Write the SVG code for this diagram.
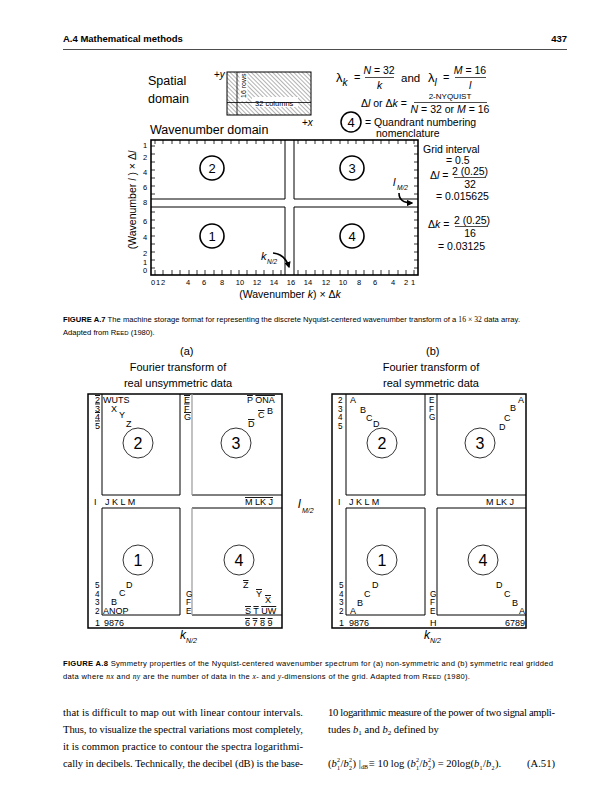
<svg xmlns="http://www.w3.org/2000/svg" width="615" height="800" viewBox="0 0 615 800">
<defs>
<style>
.s{font-family:"Liberation Sans",Arial,sans-serif;fill:#000}
.t{font-family:"Liberation Serif","Times New Roman",serif;fill:#000}
.i{font-style:italic}
.ov{text-decoration:overline}
.ln{stroke:#000;fill:none}
.tick{stroke:#000;stroke-width:0.8;fill:none}
.lbl{font-family:"Liberation Sans",Arial,sans-serif;font-size:9px;fill:#000}
.st{font-size:8.2px}
.cap{font-family:"Liberation Sans",Arial,sans-serif;font-size:7.6px;fill:#000}
.body{font-family:"Liberation Serif","Times New Roman",serif;font-size:10.6px;fill:#000}
.sm{font-family:"Liberation Serif","Times New Roman",serif;font-size:6px;fill:#000}
</style>
<pattern id="hatch" patternUnits="userSpaceOnUse" width="3" height="3" patternTransform="rotate(-45)">
<line x1="0" y1="0" x2="0" y2="3" stroke="#222" stroke-width="0.7"/>
</pattern>
<marker id="ah" viewBox="0 0 10 10" refX="8" refY="5" markerWidth="4" markerHeight="4" orient="auto">
<path d="M0,0 L10,5 L0,10 z" fill="#000"/>
</marker>
</defs>
<rect width="615" height="800" fill="#fff"/>

<g id="header">
<text class="s" x="63" y="42" font-size="9.5" font-weight="bold">A.4  Mathematical methods</text>
<text class="s" x="567" y="42" font-size="9.5" font-weight="bold" text-anchor="end">437</text>
<line x1="63" y1="49.5" x2="567" y2="49.5" stroke="#000" stroke-width="0.7"/>
</g>

<g id="spatial-domain">
<text class="s" x="148" y="85" font-size="12.5">Spatial</text>
<text class="s" x="148" y="103" font-size="12.5">domain</text>
<rect x="227" y="72" width="84" height="43" fill="url(#hatch)" stroke="#000" stroke-width="1"/>
<rect x="239.5" y="73" width="8" height="28" fill="#fff"/>
<rect x="252" y="97" width="46" height="10" fill="#fff"/>
<line class="ln" x1="237" y1="72" x2="237" y2="115" stroke-width="0.8"/>
<line class="ln" x1="227" y1="102.5" x2="311" y2="102.5" stroke-width="0.8"/>
<text class="s" transform="translate(246,98) rotate(-90)" font-size="7">16 rows</text>
<text class="s" x="255" y="105.5" font-size="7.5">32 columns</text>
<text class="s" x="214" y="78" font-size="10">+<tspan class="i">y</tspan></text>
<text class="s" x="302" y="126" font-size="10">+<tspan class="i">x</tspan></text>
</g>

<g id="formulas">
<text class="s" x="336" y="82" font-size="13">λ<tspan font-size="10" class="i" dy="4">k</tspan></text>
<text class="s" x="354" y="81" font-size="11">=</text>
<text class="s" x="379" y="74" font-size="10.5" text-anchor="middle"><tspan class="i">N</tspan> = 32</text>
<line class="ln" x1="365" y1="77.5" x2="394" y2="77.5" stroke-width="0.7"/>
<text class="s i" x="377" y="89" font-size="10.5">k</text>
<text class="s" x="401" y="82" font-size="11.5">and</text>
<text class="s" x="428" y="82" font-size="13">λ<tspan font-size="10" class="i" dy="4">l</tspan></text>
<text class="s" x="443" y="81" font-size="11">=</text>
<text class="s" x="470" y="74" font-size="10.5" text-anchor="middle"><tspan class="i">M</tspan> = 16</text>
<line class="ln" x1="455" y1="77.5" x2="486" y2="77.5" stroke-width="0.7"/>
<text class="s i" x="469" y="89" font-size="10.5">l</text>
<text class="s" x="361" y="107" font-size="10.5">Δ<tspan class="i">l</tspan> or Δ<tspan class="i">k</tspan> =</text>
<text class="s" x="450" y="99" font-size="8" text-anchor="middle">2-NYQUIST</text>
<line class="ln" x1="414" y1="102.5" x2="487" y2="102.5" stroke-width="0.7"/>
<text class="s" x="450" y="113" font-size="10.5" text-anchor="middle"><tspan class="i">N</tspan> = 32 or <tspan class="i">M</tspan> = 16</text>
<circle cx="351" cy="122" r="10" fill="none" stroke="#000" stroke-width="1.5"/>
<text class="s" x="351" y="127" font-size="13" text-anchor="middle">4</text>
<text class="s" x="365" y="126" font-size="10.5">= Quandrant numbering</text>
<text class="s" x="376" y="137" font-size="10.5">nomenclature</text>
</g>

<g id="wavenumber-domain">
<text class="s" x="150" y="134" font-size="12.5">Wavenumber domain</text>
<rect x="151" y="140" width="267" height="135" fill="none" stroke="#000" stroke-width="1.6"/>
<path class="ln" stroke-width="1" d="M285,140V199H151M294,140V199H418M285,275V207H151M294,275V207H418"/>
<path class="tick" d="M155,140v4M163,140v4M172,140v4M180,140v4M189,140v4M197,140v4M205,140v4M214,140v4M222,140v4M231,140v4M239,140v4M247,140v4M256,140v4M264,140v4M273,140v4M281,140v4M298,140v4M306,140v4M315,140v4M323,140v4M331,140v4M340,140v4M348,140v4M356,140v4M364,140v4M373,140v4M381,140v4M389,140v4M398,140v4M406,140v4M414,140v4
M155,275v-5M163,275v-5M172,275v-5M180,275v-5M189,275v-5M197,275v-5M205,275v-5M214,275v-5M222,275v-5M231,275v-5M239,275v-5M247,275v-5M256,275v-5M264,275v-5M273,275v-5M281,275v-5M298,275v-5M306,275v-5M315,275v-5M323,275v-5M331,275v-5M340,275v-5M348,275v-5M356,275v-5M364,275v-5M373,275v-5M381,275v-5M389,275v-5M398,275v-5M406,275v-5M414,275v-5
M151,146h4M151,154h4M151,162h4M151,170h4M151,178h4M151,186h4M151,194h4M151,212h4M151,220h4M151,228h4M151,236h4M151,244h4M151,252h4M151,260h4M151,268h4
M418,146h-4M418,154h-4M418,162h-4M418,170h-4M418,178h-4M418,186h-4M418,194h-4M418,212h-4M418,220h-4M418,228h-4M418,236h-4M418,244h-4M418,252h-4M418,260h-4M418,268h-4"/>
<g class="s" font-size="7.5" text-anchor="middle">
<text x="145" y="148">1</text><text x="145" y="160">2</text><text x="145" y="175">4</text><text x="145" y="190">6</text><text x="145" y="205">8</text><text x="145" y="224">6</text><text x="145" y="240">4</text><text x="145" y="256">2</text><text x="145" y="265">1</text><text x="145" y="273">0</text>
<text x="153" y="285">0</text><text x="158" y="285">1</text><text x="163" y="285">2</text><text x="188" y="285">4</text><text x="204" y="285">6</text><text x="222" y="285">8</text><text x="240" y="285">10</text><text x="257" y="285">12</text><text x="274" y="285">14</text><text x="291" y="285">16</text><text x="308" y="285">14</text><text x="326" y="285">12</text><text x="343" y="285">10</text><text x="359" y="285">8</text><text x="375" y="285">6</text><text x="393" y="285">4</text><text x="406" y="285">2</text><text x="413" y="285">1</text>
</g>
<text class="s" transform="translate(136,200) rotate(-90)" font-size="10.5" text-anchor="middle">(Wavenumber <tspan class="i">l</tspan> ) × Δ<tspan class="i">l</tspan></text>
<text class="s" x="290" y="298" font-size="10.5" text-anchor="middle">(Wavenumber <tspan class="i">k</tspan>) × Δ<tspan class="i">k</tspan></text>
<g id="wq2"><circle cx="212" cy="168" r="12" fill="none" stroke="#000" stroke-width="1.6"/><text class="s" x="212" y="173" font-size="13" text-anchor="middle">2</text></g>
<g id="wq3"><circle cx="352" cy="168" r="12" fill="none" stroke="#000" stroke-width="1.6"/><text class="s" x="352" y="173" font-size="13" text-anchor="middle">3</text></g>
<g id="wq1"><circle cx="212" cy="236" r="12" fill="none" stroke="#000" stroke-width="1.6"/><text class="s" x="212" y="241" font-size="13" text-anchor="middle">1</text></g>
<g id="wq4"><circle cx="352" cy="236" r="12" fill="none" stroke="#000" stroke-width="1.6"/><text class="s" x="352" y="241" font-size="13" text-anchor="middle">4</text></g>
<text class="s i" x="393" y="186" font-size="11">l</text><text class="s i" x="397" y="190" font-size="6.5">M/2</text>
<text class="s i" x="261" y="260" font-size="11">k</text><text class="s i" x="267" y="264" font-size="6.5">N/2</text>
</g>

<g id="connectors">
<path d="M399,193 Q399,203 412,203" fill="none" stroke="#000" stroke-width="1.6" marker-end="url(#ah)"/>
<path d="M273,253 Q285,254 289,267" fill="none" stroke="#000" stroke-width="1.6" marker-end="url(#ah)"/>
</g>

<g id="grid-notes">
<text class="s" x="423" y="153" font-size="10.5">Grid interval</text>
<text class="s" x="446" y="164" font-size="10.5">=  0.5</text>
<text class="s" x="430" y="179" font-size="10.5">Δ<tspan class="i">l</tspan>  =</text>
<text class="s" x="470" y="175" font-size="10.5" text-anchor="middle">2 (0.25)</text>
<line class="ln" x1="454" y1="177.5" x2="486" y2="177.5" stroke-width="0.7"/>
<text class="s" x="470" y="188" font-size="10.5" text-anchor="middle">32</text>
<text class="s" x="436" y="200" font-size="10.5">=  0.015625</text>
<text class="s" x="428" y="228" font-size="10.5">Δ<tspan class="i">k</tspan>  =</text>
<text class="s" x="472" y="224" font-size="10.5" text-anchor="middle">2 (0.25)</text>
<line class="ln" x1="455" y1="226.5" x2="488" y2="226.5" stroke-width="0.7"/>
<text class="s" x="470" y="237" font-size="10.5" text-anchor="middle">16</text>
<text class="s" x="438" y="250" font-size="10.5">=   0.03125</text>
</g>

<g id="caption-a7">
<text class="cap" x="63" y="322" textLength="457" lengthAdjust="spacing"><tspan font-weight="bold">FIGURE A.7</tspan>  The machine storage format for representing the discrete Nyquist-centered wavenumber transform of a <tspan class="t">16 × 32</tspan> data array.</text>
<text class="cap" x="63" y="335">Adapted from R<tspan font-size="6">EED</tspan> (1980).</text>
</g>

<g id="panel-a">
<text class="s" x="180" y="355" font-size="11">(a)</text>
<text class="s" x="178" y="371" font-size="11" text-anchor="middle">Fourier transform of</text>
<text class="s" x="178" y="387" font-size="11" text-anchor="middle">real unsymmetric data</text>
<rect x="88" y="394" width="194" height="234" fill="none" stroke="#000" stroke-width="1.5"/>
<path class="ln" stroke-width="1" d="M102,394V495H180V394M102,508V615H180V508ZM282,495H192M192,615H282M192,508H282"/>
<path d="M192,394V495M192,508V615" stroke="#999" stroke-width="1.2" fill="none"/>
<g class="lbl">
<text x="95" y="403" class="ov">2</text><text x="95" y="411.5" class="ov">3</text><text x="95" y="420" class="ov">4</text><text x="95" y="428.5" class="ov">5</text>
<text x="103" y="403">WUTS</text><text x="111" y="412">X</text><text x="119" y="418">Y</text><text x="126" y="427">Z</text>
<text x="184" y="403" class="ov">E</text><text x="184" y="411.5" class="ov">F</text><text x="184" y="420" class="ov">G</text>
<text x="247" y="403"><tspan class="ov">P</tspan> <tspan class="ov">ONA</tspan></text>
<text x="267" y="414">B</text><text x="258" y="418" class="ov">C</text><text x="248" y="427" class="ov">D</text>
<text x="94" y="505">I</text><text x="105" y="505">J K L M</text>
<text x="245" y="505" class="ov">M LK J</text>
<g class="st"><text x="95" y="588">5</text><text x="95" y="596.5">4</text><text x="95" y="605">3</text><text x="95" y="613.5">2</text></g>
<text x="95" y="626">1</text>
<text x="126" y="588">D</text><text x="119" y="596">C</text><text x="111" y="605">B</text><text x="103" y="614">ANOP</text><text x="104" y="626">9876</text>
<g class="st"><text x="186" y="596.5">G</text><text x="186" y="605">F</text><text x="186" y="613.5">E</text></g>
<text x="243" y="588" class="ov">Z</text><text x="256" y="597" class="ov">Y</text><text x="265" y="603" class="ov">X</text>
<text x="245" y="614"><tspan class="ov">S</tspan> <tspan class="ov">T</tspan> <tspan class="ov">UW</tspan></text>
<text x="245" y="626"><tspan class="ov">6</tspan> <tspan class="ov">7</tspan> <tspan class="ov">8</tspan> <tspan class="ov">9</tspan></text>
</g>
<g id="a-q2"><circle cx="138" cy="443" r="15" fill="none" stroke="#000" stroke-width="0.8"/><text class="s" x="138" y="449" font-size="16" text-anchor="middle">2</text></g>
<g id="a-q3"><circle cx="236" cy="443" r="15" fill="none" stroke="#000" stroke-width="0.8"/><text class="s" x="236" y="449" font-size="16" text-anchor="middle">3</text></g>
<g id="a-q1"><circle cx="138" cy="560" r="15" fill="none" stroke="#000" stroke-width="0.8"/><text class="s" x="138" y="566" font-size="16" text-anchor="middle">1</text></g>
<g id="a-q4"><circle cx="239" cy="560" r="15" fill="none" stroke="#000" stroke-width="0.8"/><text class="s" x="239" y="566" font-size="16" text-anchor="middle">4</text></g>
<text class="s i" x="180" y="639" font-size="12">k</text><text class="s i" x="186" y="643" font-size="7">N/2</text>
</g>

<g id="lm2-label">
<text class="s i" x="298" y="508" font-size="12">l</text><text class="s i" x="302" y="513" font-size="7">M/2</text>
</g>

<g id="panel-b">
<text class="s" x="426" y="355" font-size="11">(b)</text>
<text class="s" x="431" y="371" font-size="11" text-anchor="middle">Fourier transform of</text>
<text class="s" x="431" y="387" font-size="11" text-anchor="middle">real symmetric data</text>
<rect x="332" y="394" width="194" height="234" fill="none" stroke="#000" stroke-width="1.5"/>
<path class="ln" stroke-width="1" d="M346,394V495H425V394M346,508V615H425V508ZM437,394V495H526M437,508V615H526M437,508H526"/>
<g class="lbl">
<g class="st"><text x="338" y="403">2</text><text x="338" y="411.5">3</text><text x="338" y="420">4</text><text x="338" y="428.5">5</text></g>
<text x="350" y="403">A</text><text x="360" y="413">B</text><text x="366" y="421">C</text><text x="373" y="427">D</text>
<g class="st"><text x="429" y="403">E</text><text x="429" y="411.5">F</text><text x="429" y="420">G</text></g>
<text x="518" y="403">A</text><text x="510" y="411">B</text><text x="504" y="421">C</text><text x="499" y="430">D</text>
<text x="338" y="505">I</text><text x="349" y="505">J K L M</text>
<text x="486" y="505">M LK J</text>
<g class="st"><text x="339" y="588">5</text><text x="339" y="596.5">4</text><text x="339" y="605">3</text><text x="339" y="613.5">2</text></g>
<text x="339" y="626">1</text>
<text x="372" y="588">D</text><text x="364" y="597">C</text><text x="357" y="606">B</text><text x="350" y="614">A</text><text x="349" y="626">9876</text>
<g class="st"><text x="430" y="596.5">G</text><text x="430" y="605">F</text><text x="430" y="613.5">E</text></g>
<text x="430" y="626">H</text>
<text x="496" y="588">D</text><text x="504" y="597">C</text><text x="512" y="606">B</text><text x="519" y="614">A</text>
<text x="525" y="626" text-anchor="end">6789</text>
</g>
<g id="b-q2"><circle cx="382" cy="443" r="15" fill="none" stroke="#000" stroke-width="0.8"/><text class="s" x="382" y="449" font-size="16" text-anchor="middle">2</text></g>
<g id="b-q3"><circle cx="480" cy="443" r="15" fill="none" stroke="#000" stroke-width="0.8"/><text class="s" x="480" y="449" font-size="16" text-anchor="middle">3</text></g>
<g id="b-q1"><circle cx="382" cy="560" r="15" fill="none" stroke="#000" stroke-width="0.8"/><text class="s" x="382" y="566" font-size="16" text-anchor="middle">1</text></g>
<g id="b-q4"><circle cx="483" cy="560" r="15" fill="none" stroke="#000" stroke-width="0.8"/><text class="s" x="483" y="566" font-size="16" text-anchor="middle">4</text></g>
<text class="s i" x="424" y="639" font-size="12">k</text><text class="s i" x="430" y="643" font-size="7">N/2</text>
</g>

<g id="caption-a8">
<text class="cap" x="63" y="666" textLength="490" lengthAdjust="spacing"><tspan font-weight="bold">FIGURE A.8</tspan>  Symmetry properties of the Nyquist-centered wavenumber spectrum for (a) non-symmetric and (b) symmetric real gridded</text>
<text class="cap" x="63" y="679" textLength="407" lengthAdjust="spacing">data where <tspan class="t i">nx</tspan> and <tspan class="t i">ny</tspan> are the number of data in the <tspan class="t i">x</tspan>- and <tspan class="t i">y</tspan>-dimensions of the grid. Adapted from R<tspan font-size="6">EED</tspan> (1980).</text>
</g>

<g id="body-text">
<text class="body" x="63" y="716" textLength="240" lengthAdjust="spacing">that is difficult to map out with linear contour intervals.</text>
<text class="body" x="63" y="733" textLength="240" lengthAdjust="spacing">Thus, to visualize the spectral variations most completely,</text>
<text class="body" x="63" y="750" textLength="240" lengthAdjust="spacing">it is common practice to contour the spectra logarithmi-</text>
<text class="body" x="63" y="767" textLength="240" lengthAdjust="spacing">cally in decibels. Technically, the decibel (dB) is the base-</text>
<text class="body" x="328" y="716" textLength="227" lengthAdjust="spacing">10 logarithmic measure of the power of two signal ampli-</text>
<text class="body" x="328" y="733">tudes <tspan class="i">b</tspan><tspan font-size="7" dy="2">1</tspan><tspan dy="-2"> and </tspan><tspan class="i">b</tspan><tspan font-size="7" dy="2">2</tspan><tspan dy="-2"> defined by</tspan></text>
</g>

<g id="equation">
<text class="body" x="328" y="767">(<tspan class="i">b</tspan></text>
<text class="sm" x="337" y="762">2</text><text class="sm" x="337" y="770">1</text>
<text class="body" x="340.5" y="767">/<tspan class="i">b</tspan></text>
<text class="sm" x="349" y="762">2</text><text class="sm" x="349" y="770">2</text>
<text class="body" x="352.5" y="767">) |</text>
<text class="sm" x="361" y="769">dB</text>
<text class="body" x="369" y="767">≡ 10 log (<tspan class="i">b</tspan></text>
<text class="sm" x="416" y="762">2</text><text class="sm" x="416" y="770">1</text>
<text class="body" x="419.5" y="767">/<tspan class="i">b</tspan></text>
<text class="sm" x="428" y="762">2</text><text class="sm" x="428" y="770">2</text>
<text class="body" x="431.5" y="767">) = 20log(<tspan class="i">b</tspan></text>
<text class="sm" x="479.5" y="770">1</text>
<text class="body" x="483" y="767">/<tspan class="i">b</tspan></text>
<text class="sm" x="491.5" y="770">2</text>
<text class="body" x="495" y="767">).</text>
<text class="body" x="555" y="767" text-anchor="end">(A.51)</text>
</g>
</svg>
